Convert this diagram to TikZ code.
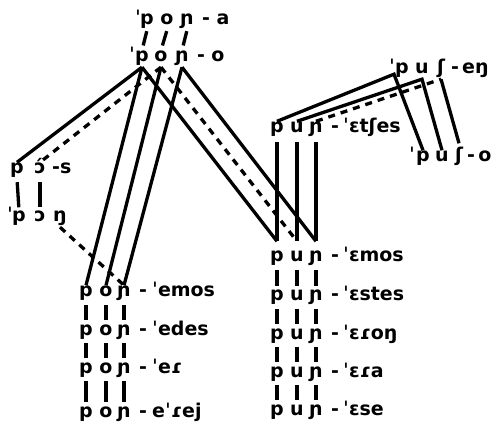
\documentclass[tikz,border=0pt]{standalone}
\usepackage{fontspec}
\setmainfont{DejaVu Sans}
\begin{document}
\begin{tikzpicture}[x=1pt,y=-1pt,
  every node/.style={font=\fontsize{19}{21}\selectfont\bfseries},
  seg/.style={inner sep=1pt, text height=10.5pt, text depth=4pt, anchor=base},
  suf/.style={inner sep=0pt, anchor=base west},
  lk/.style={line width=3.3pt},
  dl/.style={line width=3.3pt, dash pattern=on 7pt off 6pt},
  bar/.style={line width=3.3pt, shorten <=3pt, shorten >=3pt}]
\useasboundingbox (0,0) rectangle (500,427);
% 'pon-a
\node[seg] (A0) at (138,25) {ˈ};
\node[seg] (A1) at (147,25) {p};
\node[seg] (A2) at (167,25) {o};
\node[seg] (A3) at (187,25) {ɲ};
\node[seg] (Ah) at (206,25) {-};
\node[seg] (Ax) at (223,25) {a};
% 'pon-o
\node[seg] (B0) at (132,62) {ˈ};
\node[seg] (B1) at (142,62) {p};
\node[seg] (B2) at (161,62) {o};
\node[seg] (B3) at (182,62) {ɲ};
\node[seg] (Bh) at (201,62) {-};
\node[seg] (Bx) at (218,62) {o};
% p3-s
\node[seg] (C1) at (17,174) {p};
\node[seg] (C2) at (40,174) {ɔ́};
\node[suf] (Cx) at (52,174) {-s};
% 'p3ng
\node[seg] (D0) at (10,222) {ˈ};
\node[seg] (D1) at (19,222) {p};
\node[seg] (D2) at (40,222) {ɔ};
\node[seg] (D3) at (60,222) {ŋ};
% pon- column
\foreach \r/\y/\s in {1/297/ˈemos, 2/335/ˈedes, 3/373/ˈeɾ, 4/417/eˈɾej}{
  \node[seg] (E\r1) at (86,\y) {p};
  \node[seg] (E\r2) at (106,\y) {o};
  \node[seg] (E\r3) at (124,\y) {ɲ};
  \node[seg] (E\r h) at (143,\y) {-};
  \node[suf] (E\r x) at (152,\y) {\s};
}
% pun- column
\foreach \r/\y/\s in {0/133/ˈɛtʃes, 1/262/ˈɛmos, 2/301/ˈɛstes, 3/339/ˈɛɾoŋ, 4/377/ˈɛɾa, 5/415/ˈɛse}{
  \node[seg] (F\r1) at (277,\y) {p};
  \node[seg] (F\r2) at (297,\y) {u};
  \node[seg] (F\r3) at (316,\y) {ɲ};
  \node[seg] (F\r h) at (335,\y) {-};
  \node[suf] (F\r x) at (343,\y) {\s};
}
% 'puS-eng
\node[seg] (G0) at (392,74) {ˈ};
\node[seg] (G1) at (402,74) {p};
\node[seg] (G2) at (422,74) {u};
\node[seg] (G3) at (441,74) {ʃ};
\node[seg] (Gh) at (455,74) {-};
\node[suf] (Gx) at (462,74) {eŋ};
% 'puS-o
\node[seg] (H0) at (412,162) {ˈ};
\node[seg] (H1) at (423,162) {p};
\node[seg] (H2) at (442,162) {u};
\node[seg] (H3) at (459,162) {ʃ};
\node[seg] (Hh) at (471,162) {-};
\node[seg] (Hx) at (485,162) {o};
% connectors
\foreach \c in {1,2,3}{
  \draw[lk, shorten <=1pt, shorten >=5pt] (A\c.south) -- (B\c.north);
  \draw[lk] (B\c.south) -- (E1\c.north);
  \draw[lk, shorten <=4pt] (F0\c.south) -- ([yshift=9pt]F1\c.north);
}
\draw[lk] (B1.south) -- (C1.north);
\draw[dl] (B2.south) -- (C2.north);
\draw[lk] (B1.south) -- ([yshift=9pt]F11.north);
\draw[dl] (B2.south) -- ([yshift=9pt]F12.north);
\draw[lk] (B3.south) -- ([yshift=9pt]F13.north);
\draw[bar] (C1.south) -- (D1.north);
\draw[bar] (C2.south) -- (D2.north);
\draw[dl] (D3.south) -- (E13.north);
\foreach \r/\n in {1/2,2/3,3/4}{
  \foreach \c in {1,2,3}{ \draw[bar] (E\r\c.south) -- (E\n\c.north); }
}
\foreach \r/\n in {1/2,2/3,3/4,4/5}{
  \foreach \c in {1,2,3}{ \draw[bar] (F\r\c.south) -- (F\n\c.north); }
}
\draw[lk] (F01.north) -- ([yshift=5pt]G1.south west) -- (H1.north);
\draw[lk] (F02.north) -- (G2.south) -- (H2.north);
\draw[lk] (G3.south) -- ([yshift=7pt]H3.north);
\draw[dl] (F03.north) -- (G3.south);
\end{tikzpicture}
\end{document}
